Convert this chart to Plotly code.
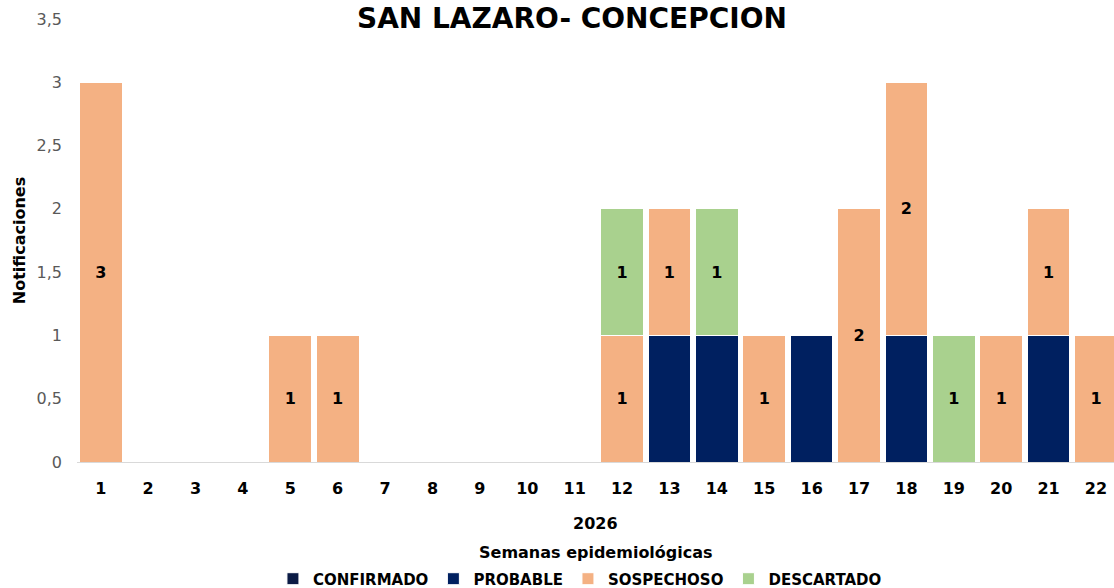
import plotly.graph_objects as go

weeks = list(range(1, 23))
confirmado = [0] * 22
probable = [0, 0, 0, 0, 0, 0, 0, 0, 0, 0, 0, 0, 1, 1, 0, 1, 0, 1, 0, 0, 1, 0]
sospechoso = [3, 0, 0, 0, 1, 1, 0, 0, 0, 0, 0, 1, 1, 0, 1, 0, 2, 2, 0, 1, 1, 1]
descartado = [0, 0, 0, 0, 0, 0, 0, 0, 0, 0, 0, 1, 0, 1, 0, 0, 0, 0, 1, 0, 0, 0]
tick_labels = [str(w) for w in weeks]

FONT = "DejaVu Sans"
series = [
    ("CONFIRMADO", confirmado, "#0B1B45", "#0B1B45"),
    ("PROBABLE", probable, "#002060", "#002060"),
    ("SOSPECHOSO", sospechoso, "#F4B183", "black"),
    ("DESCARTADO", descartado, "#A9D18E", "black"),
]

fig = go.Figure()
for name, vals, color, tcolor in series:
    ys = [v if v else None for v in vals]
    txt = [str(v) if v else "" for v in vals]
    fig.add_trace(go.Bar(
        x=weeks, y=ys, name=name, text=txt,
        marker=dict(color=color, line=dict(color="white", width=1)),
        textposition="inside", insidetextanchor="middle", textangle=0,
        constraintext="none",
        textfont=dict(family=FONT, size=16, color=tcolor, weight="bold"),
        width=0.9,
    ))

fig.update_layout(
    barmode="stack",
    width=1114, height=588,
    margin=dict(l=77, r=0, t=19, b=126, autoexpand=False),
    paper_bgcolor="white", plot_bgcolor="white",
    separators=",.",
    font=dict(family=FONT, color="black"),
    showlegend=True,
    legend=dict(orientation="h", x=0.485, xanchor="center", y=-0.264, yanchor="middle",
                font=dict(family=FONT, size=15, color="black", weight="bold"),
                itemwidth=30, traceorder="normal"),
    bargap=0.1,
)
fig.update_xaxes(
    tickmode="array", tickvals=weeks, ticktext=tick_labels, automargin=False,
    range=[0.5, 22.38], showgrid=False, showline=True, linecolor="#D9D9D9", linewidth=1,
    ticks="", tickfont=dict(family=FONT, size=16, color="black", weight="bold"),
    ticklabelstandoff=12,
)
fig.update_yaxes(
    range=[0, 3.5], dtick=0.5, showgrid=False, zeroline=False, showline=False, automargin=False,
    tickfont=dict(family=FONT, size=16, color="#595959"),
    ticklabelstandoff=14,
    title=dict(text="Notificaciones", font=dict(family=FONT, size=16, color="black", weight="bold"), standoff=6),
)
fig.add_annotation(text="SAN LAZARO- CONCEPCION", xref="paper", yref="paper", x=0.477, y=1,
                   xanchor="center", yanchor="top", yshift=19, showarrow=False,
                   font=dict(family=FONT, size=28, color="black", weight="bold"))
fig.add_annotation(text="2026", xref="paper", yref="paper", x=0.5, y=0, xanchor="center",
                   yanchor="middle", yshift=-61, showarrow=False,
                   font=dict(family=FONT, size=16, color="black", weight="bold"))
fig.add_annotation(text="Semanas epidemiológicas", xref="paper", yref="paper", x=0.5, y=0,
                   xanchor="center", yanchor="middle", yshift=-90, showarrow=False,
                   font=dict(family=FONT, size=16, color="black", weight="bold"))

fig.write_html("out.html", config={"displayModeBar": False},
               post_script="document.body.style.margin='0px';document.body.style.overflow='hidden';")
